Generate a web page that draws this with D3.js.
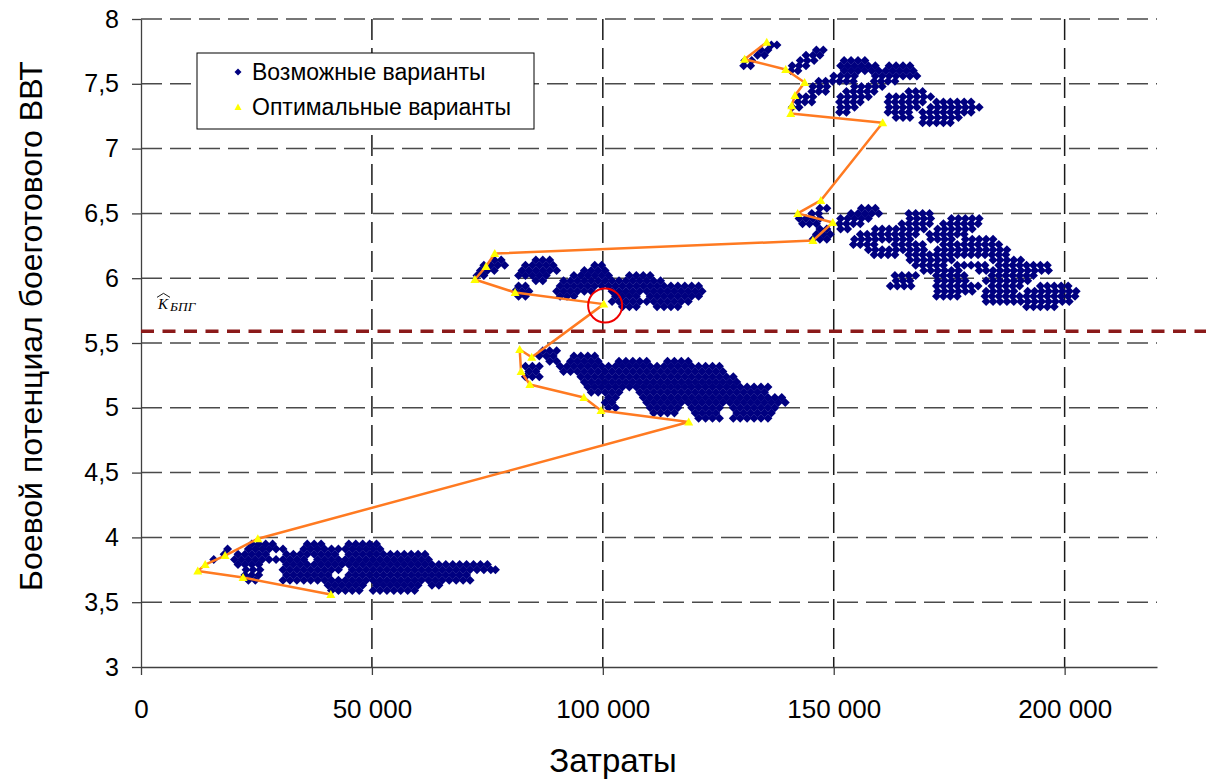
<!DOCTYPE html>
<html>
<head>
<meta charset="utf-8">
<script src="https://cdn.jsdelivr.net/npm/d3@7"></script>
<style>
  body { margin: 0; background: #fff; }
  svg { display: block; }
  text { font-family: "Liberation Sans", Arial, sans-serif; }
</style>
</head>
<body>
<svg id="chart" width="1206" height="780"></svg>
<script>
// Axis ticks and their labels
const xTicks = [0, 50000, 100000, 150000, 200000];
const xTickLabels = ["0", "50 000", "100 000", "150 000", "200 000"];
const yTicks = [3, 3.5, 4, 4.5, 5, 5.5, 6, 6.5, 7, 7.5, 8];
const yTickLabels = ["3", "3,5", "4", "4,5", "5", "5,5", "6", "6,5", "7", "7,5", "8"];

// Required combat potential level (K БПГ)
const thresholdValue = 5.59;

// Selected (optimal) variants, in path order
const optimalCost = [41100, 22100, 12300, 13900, 18200, 25300, 118600, 99600, 95900, 84200,
  82300, 82000, 84600, 100200, 81000, 72300, 74700, 76600, 145500, 149800,
  142200, 147200, 160600, 140700, 140900, 141600, 143700, 139600, 130700, 135500];
const optimalValue = [3.56, 3.69, 3.74, 3.79, 3.86, 3.99, 4.89, 4.98, 5.08, 5.18,
  5.28, 5.45, 5.39, 5.80, 5.89, 5.99, 6.09, 6.19, 6.29, 6.43,
  6.50, 6.60, 7.20, 7.27, 7.33, 7.41, 7.51, 7.61, 7.69, 7.82];

// Variant matching the required level
const chosenCost = 100500;
const chosenValue = 5.79;

// Possible variants: rows of [combat potential, [costs]]
const variantsLow = [
  [3.95, [24000,25500,27000,28500, 36000,37500,39000, 45000,46500,48000,49500,51000]],
  [3.91, [18750, 23250,24750,26250,27750,29250,30750, 35250,36750,38250,39750,41250,42750,44250,45750,47250,48750,50250,51750]],
  [3.87, [18000, 21000,22500,24000,25500,27000, 31500,33000,34500,36000,37500,39000,40500,42000, 45000,46500,48000,49500,51000,52500,54000,55500,57000,58500,60000,61500]],
  [3.83, [15750, 20250,21750,23250,24750,26250,27750,29250,30750,32250,33750,35250,38250,39750,41250,42750,44250,45750,47250,48750,50250,51750,53250,54750,56250,57750,59250,60750,62250]],
  [3.79, [21000,22500,24000,25500, 31500,33000,34500,36000,37500,39000,40500,42000,43500,45000,46500,48000,49500,51000,52500,54000,55500,57000,58500,60000,61500,63000,64500,66000,67500,69000,70500,72000,73500,75000]],
  [3.75, [22750,24250,25750, 30750,32250,33750,35250,36750,38250,39750,41250,42750, 45750,47250,48750,50250,51750,53250,54750,56250,57750,59250,60750,62250,63750,65250,66750,68250,69750,71250,72750,74250,75750,76750]],
  [3.71, [22500,24000,25500, 31500,33000,34500,36000,37500,39000,40500, 45000,46500,48000,49500,51000,52500,54000,55500,57000,58500,60000,61500,63000,64500,66000,67500,69000,70500]],
  [3.67, [23250,24750, 30750,32250,33750,35250,36750,38250,39750,41250,42750,44250,45750,47250,48750, 50250,51750,53250,54750,56250,57750,59250,60750,62250,63750,65250,66750,68250,69750,71250]],
  [3.63, [40500,42000,43500,45000,46500,48000, 51000,52500,54000,55500,57000,58500,60000, 63000,64500]],
  [3.59, [41250,42750,44250,45750,47250, 50250,51750,53250,54750,56250,57750,59250]]
];

const variantsMid = [
  [5.44, [87000,88500,90000]],
  [5.40, [86250,87750,89250, 93750,95250,96750,98250]],
  [5.36, [88500,90000, 93000,94500,96000,97500,99000, 103500,105000,106500,108000,109500, 114000,115500,117000,118500]],
  [5.32, [83250,84750,86250, 90750,92250,93750,95250,96750,98250,99750,101250,102750,104250,105750,107250,108750,110250,111750,113250,114750,116250,117750,119250,120750,122250,123750,125250]],
  [5.28, [84000,85500, 91500,93000,94500,96000,97500,99000,100500,102000,103500,105000,106500,108000,109500,111000,112500,114000,115500,117000,118500,120000,121500,123000,124500,126000]],
  [5.24, [83250,84750,86250, 95250,96750,98250,99750,101250,102750,104250,105750,107250,108750,110250,111750,113250,114750,116250,117750,119250,120750,122250,123750,125250,126750,128250]],
  [5.20, [96000,97500,99000,100500,102000,103500,105000,106500,108000,109500,111000,112500,114000,115500,117000,118500,120000,121500,123000,124500,126000,127500,129000]],
  [5.16, [96750,98250,99750,101250,102750,104250,105750,107250,108750,110250,111750,113250,114750,116250,117750,119250,120750,122250,123750,125250,126750,128250,129750,131250,132750,134250,135750]],
  [5.12, [97500,99000, 100500,102000,103500, 108000,109500,111000,112500,114000,115500,117000,118500,120000,121500,123000,124500,126000,127500,129000,130500,132000,133500,135000]],
  [5.08, [101250,102750, 108750,110250,111750,113250,114750,116250,117750,119250,120750,122250,123750,125250,126750, 128250,129750,131250,132750,134250,135750,137250,138750]],
  [5.04, [100500,102000, 109500,111000,112500,114000,115500,117000,118500,120000,121500,123000,124500,126000, 127500,129000,130500,132000,133500,135000,136500,138000,139500]],
  [5.00, [101250,102750, 110250,111750,113250,114750,116250, 119250,120750,122250,123750,125250, 128250,129750,131250,132750,134250,135750,137250]],
  [4.96, [111000,112500,114000,115500, 120000,121500,123000,124500, 129000,130500,132000,133500,135000,136500]],
  [4.92, [120750,122250,123750,125250, 128250,129750,131250,132750,134250,135750]]
];

const variantsSix = [
  [6.14, [76500,78000, 85500,87000,88500]],
  [6.10, [74250,75750,77250,78750, 83250,84750,86250,87750,89250, 98250,99750]],
  [6.06, [73500,75000,76500, 82500,84000,85500,87000,88500,90000, 96000,97500,99000,100500]],
  [6.02, [72750,74250, 81750,83250,84750,86250,87750, 93750,95250,96750,98250,99750,101250, 105750,107250,108750,110250]],
  [5.98, [85500,87000, 91500,93000,94500,96000,97500,99000,100500,102000,103500,105000,106500,108000,109500,111000,112500]],
  [5.94, [81750,83250, 90750,92250,93750,95250,96750,98250,99750, 101250,102750,104250,105750,107250,108750,110250,111750,113250,114750,116250,117750,119250,120750]],
  [5.90, [81000,82500,84000, 90000,91500,93000,94500,96000,97500, 102000,103500,105000,106500,108000,109500,111000,112500,114000,115500,117000,118500,120000,121500]],
  [5.86, [81750,83250, 90750,92250,93750, 102750,104250,105750,107250, 110250,111750,113250,114750,116250,117750,119250,120750]],
  [5.82, [102000,103500,105000,106500,108000,109500,111000,112500,114000,115500,117000,118500]],
  [5.78, [104250,105750,107250, 111750,113250,114750,116250]]
];

const variantsRight = [
  [6.54, [147000,148500, 156000,157500,159000]],
  [6.50, [145250,146750, 153750,155250,156750,158250,159750, 166250,167750,169250,170750]],
  [6.46, [142500,144000,145500,147000, 151500,153000,154500,156000,157500, 166500,168000,169500,171000, 175500,177000,178500,180000,181500]],
  [6.42, [143250,144750,146250, 151250,152750,154250,155750, 164750,166250,167750,169250,170750, 173750,175250,176750,178250,179750,181250]],
  [6.38, [147000,148500, 151500,153000, 159000,160500,162000,163500,165000,166500,168000,169500, 172500,174000,175500,177000,178500,180000]],
  [6.34, [146250,147750,149250, 155750,157250,158750,160250,161750,163250,164750,166250,167750, 170750,172250,173750,175250,176750,178250]],
  [6.30, [145500,147000,148500, 154500,156000,157500,159000,160500,162000,163500,165000,166500, 171000,172500,174000,175500, 178500,180000,181500,183000,184500]],
  [6.26, [154250,155750,157250,158750, 163250,164750,166250,167750,169250, 173750,175250,176750,178250,179750,181250,182750,184250,185750]],
  [6.22, [157500,159000,160500,162000,163500,165000,166500,168000,169500, 172500,174000,175500,177000,178500,180000,181500,183000,184500,186000,187500]],
  [6.18, [158750,160250,161750,163250, 166250,167750,169250,170750,172250,173750,175250,176750, 178250,179750,181250,182750,184250,185750,187250]],
  [6.14, [166500,168000,169500,171000,172500,174000,175500, 184500,186000,187500,189000,190500]],
  [6.10, [167750,169250,170750,172250,173750, 176750,178250,179750,181250,182750, 185750,187250,188750,190250,191750,193250,194750,196250]],
  [6.06, [169500,171000,172500,174000,175500,177000, 181500,183000,184500,186000,187500,189000,190500,192000,193500,195000,196500]],
  [6.02, [163250,164750,166250,167750, 172250,173750,175250,176750,178250, 184250,185750,187250,188750,190250,191750,193250]],
  [5.98, [163500,165000,166500, 172500,174000,175500,177000,178500, 183000,184500,186000,187500,189000,190500,192000]],
  [5.94, [162250,163750,165250,166750, 172250,173750,175250,176750,178250,179750,181250, 184250,185750,187250,188750,190250, 194750,196250,197750,199250,200750]],
  [5.90, [172500,174000,175500,177000,178500,180000, 183000,184500,186000,187500,189000, 192000,193500,195000,196500,198000,199500,201000,202500]],
  [5.86, [172250,173750,175250,176750, 182750,184250,185750,187250,188750,190250,191750,193250,194750,196250,197750,199250,200750,202250]],
  [5.82, [183000,184500,186000,187500,189000,190500,192000,193500,195000,196500,198000,199500,201000]],
  [5.78, [191750,193250,194750,196250,197750]]
];

const variantsTop = [
  [7.80, [136500,137700]],
  [7.76, [134250,135750, 146250,147750]],
  [7.72, [133500,135000, 144000,145500,147000]],
  [7.68, [130750,132250, 142750,144250,145750, 152250,153750,155250,156750]],
  [7.64, [130500,132000, 141000,142500,144000, 151500,153000,154500,156000,157500,159000, 162000,163500,165000,166500]],
  [7.60, [140750,142250, 152250,153750,155250,156750,158250,159750,161250,162750,164250,165750,167250]],
  [7.56, [150000,151500,153000,154500, 159000,160500,162000,163500,165000,166500,168000]],
  [7.52, [146750,148250,149750,151250,152750,154250, 158750,160250,161750,163250]],
  [7.48, [145500,147000,148500, 154500,156000,157500,159000,160500]],
  [7.44, [145250,146750,148250, 152750,154250,155750,157250,158750, 166250,167750,169250]],
  [7.40, [142500,144000,145500, 151500,153000,154500,156000,157500, 162000,163500,165000,166500,168000,169500,171000]],
  [7.36, [142250,143750,145250, 151250,152750,154250,155750, 161750,163250,164750,166250,167750,169250, 172250,173750,175250,176750,178250,179750]],
  [7.32, [141000,142500, 151500,153000,154500, 162000,163500,165000,166500,168000, 171000,172500,174000,175500,177000,178500,180000,181500]],
  [7.28, [151250,152750, 161750,163250,164750,166250, 169250,170750,172250,173750,175250,176750,178250,179750]],
  [7.24, [163500,165000,166500, 169500,171000,172500,174000,175500,177000]],
  [7.20, [169250,170750,172250,173750,175250]]
];

// ---------------------------------------------------------------
const svg = d3.select("#chart");
const W = 1206;

const x = d3.scaleLinear().domain([0, 220000]).range([141, 1157]);
const y = d3.scaleLinear().domain([3, 8]).range([667, 19]);

// Dashed grid
const grid = svg.append("g");
grid.selectAll("line.h").data(yTicks.filter(v => v > 3)).join("line")
  .attr("class", "h")
  .attr("x1", x(0)).attr("x2", x(220000))
  .attr("y1", d => y(d)).attr("y2", d => y(d))
  .attr("stroke", "#4a4a4a").attr("stroke-width", 1.5)
  .attr("stroke-dasharray", "21,8");
grid.selectAll("line.v").data(xTicks.filter(v => v > 0)).join("line")
  .attr("class", "v")
  .attr("x1", d => x(d)).attr("x2", d => x(d))
  .attr("y1", y(8)).attr("y2", y(3))
  .attr("stroke", "#1a1a1a").attr("stroke-width", 1.5)
  .attr("stroke-dasharray", "21,8");

// Axes
const yAxis = svg.append("g")
  .attr("transform", `translate(${x(0)},0)`)
  .call(d3.axisLeft(y).tickValues(yTicks).tickSize(9).tickSizeOuter(0).tickPadding(13)
    .tickFormat((d, i) => yTickLabels[i]));
const xAxis = svg.append("g")
  .attr("transform", `translate(0,${y(3)})`)
  .call(d3.axisBottom(x).tickValues(xTicks).tickSize(8).tickSizeOuter(0).tickPadding(25)
    .tickFormat((d, i) => xTickLabels[i]));
[yAxis, xAxis].forEach(g => {
  g.attr("color", "#404040");
  g.selectAll("path, line").attr("stroke-width", 1.3);
  g.selectAll("text").attr("fill", "#000")
    .style("font-family", '"Liberation Sans", Arial, sans-serif');
});
yAxis.selectAll("text").style("font-size", "25px");
xAxis.selectAll("text").style("font-size", "26px");

// Possible variants (diamonds)
const diamond = "M0,-4.5L4.5,0L0,4.5L-4.5,0Z";
const variantPoints = [];
[variantsLow, variantsMid, variantsSix, variantsRight, variantsTop].forEach(rows =>
  rows.forEach(([v, costs]) => costs.forEach(c => variantPoints.push([c, v]))));
svg.append("g").selectAll("path").data(variantPoints).join("path")
  .attr("d", diamond)
  .attr("transform", d => `translate(${x(d[0])},${y(d[1])})`)
  .attr("fill", "#000080");

// Required level line
svg.append("line")
  .attr("x1", x(0)).attr("x2", W)
  .attr("y1", y(thresholdValue)).attr("y2", y(thresholdValue))
  .attr("stroke", "#8b1a1a").attr("stroke-width", 3.5)
  .attr("stroke-dasharray", "13,8.5");

// Optimal variants path and markers
const optimal = optimalCost.map((c, i) => [c, optimalValue[i]]);
svg.append("path")
  .datum(optimal)
  .attr("d", d3.line().x(d => x(d[0])).y(d => y(d[1])))
  .attr("fill", "none").attr("stroke", "#ff7a21").attr("stroke-width", 2.5)
  .attr("stroke-linejoin", "round");
const tri = "M0,-4.5L4.5,3.5L-4.5,3.5Z";
svg.append("g").selectAll("path").data(optimal).join("path")
  .attr("d", tri)
  .attr("transform", d => `translate(${x(d[0])},${y(d[1])})`)
  .attr("fill", "#ffff00");

// Highlighted variant
svg.append("circle")
  .attr("cx", x(chosenCost)).attr("cy", y(chosenValue)).attr("r", 17)
  .attr("fill", "none").attr("stroke", "#f00000").attr("stroke-width", 2);

// K БПГ label
const kx = x(0) + 17, ky = y(thresholdValue) - 22;
const klab = svg.append("g").attr("transform", `translate(${kx},${ky})`);
klab.append("path").attr("d", "M-1,-12L5.5,-16L12,-12")
  .attr("fill", "none").attr("stroke", "#000").attr("stroke-width", 0.9);
klab.append("text").attr("x", 0).attr("y", 0)
  .style("font-family", '"Liberation Serif", "Times New Roman", serif')
  .style("font-style", "italic").style("font-size", "15px").text("K");
klab.append("text").attr("transform", "translate(12,2) scale(1.12,1)")
  .style("font-family", '"Liberation Serif", "Times New Roman", serif')
  .style("font-style", "italic").style("font-size", "12px").text("БПГ");

// Legend
const lg = svg.append("g");
lg.append("rect").attr("x", 197).attr("y", 53).attr("width", 337).attr("height", 76)
  .attr("fill", "#fff").attr("stroke", "#000").attr("stroke-width", 1);
lg.append("path").attr("d", "M0,-3.5L3.5,0L0,3.5L-3.5,0Z")
  .attr("transform", "translate(238,72)").attr("fill", "#000080");
lg.append("path").attr("d", "M0,-3.5L3.5,3L-3.5,3Z")
  .attr("transform", "translate(238,107)").attr("fill", "#ffff00");
lg.append("text").attr("x", 252).attr("y", 80).style("font-size", "23px").text("Возможные варианты");
lg.append("text").attr("x", 252).attr("y", 115).style("font-size", "23px").text("Оптимальные варианты");

// Axis titles
svg.append("text")
  .attr("transform", `translate(42,326) rotate(-90)`)
  .attr("text-anchor", "middle").style("font-size", "32px")
  .text("Боевой потенциал боеготового ВВТ");
svg.append("text")
  .attr("x", 613).attr("y", 772)
  .attr("text-anchor", "middle").style("font-size", "33px")
  .text("Затраты");
</script>
</body>
</html>
